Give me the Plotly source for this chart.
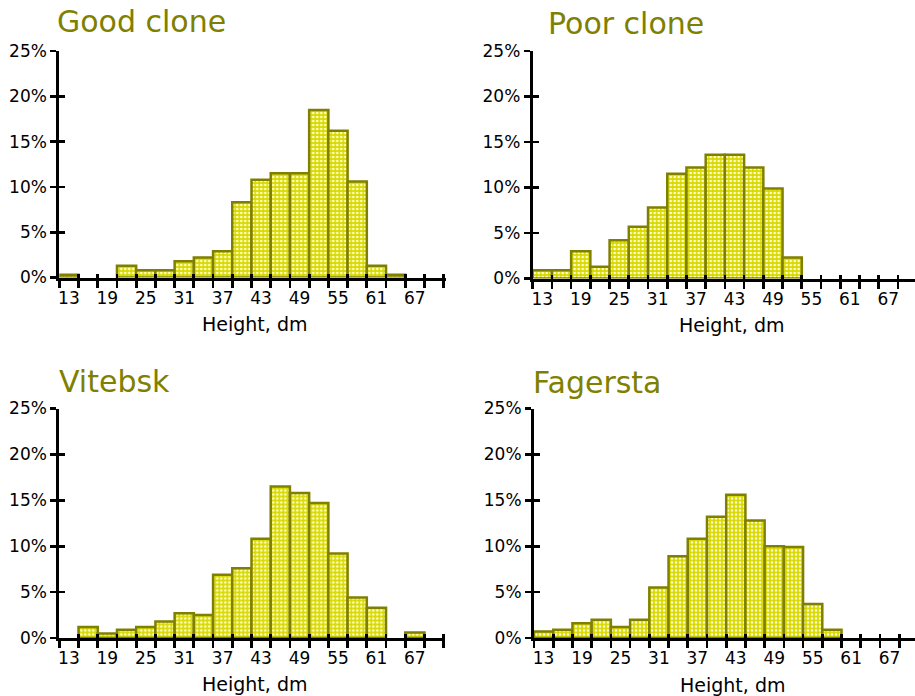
import plotly.graph_objects as go

# ---- data (percent of trees per 3-dm height class) ----
bin_centers = [13, 16, 19, 22, 25, 28, 31, 34, 37, 40, 43, 46, 49, 52, 55, 58, 61, 64, 67, 70]
tick_labels = [13, 19, 25, 31, 37, 43, 49, 55, 61, 67]
good_clone = [0.3, 0, 0, 1.3, 0.8, 0.8, 1.8, 2.2, 2.9, 8.3, 10.8, 11.5, 11.5, 18.5, 16.2, 10.6, 1.3, 0.3, 0, 0]
poor_clone = [0.9, 0.9, 3.0, 1.3, 4.2, 5.7, 7.8, 11.5, 12.2, 13.6, 13.6, 12.2, 9.9, 2.3, 0, 0, 0, 0, 0, 0]
vitebsk = [0, 1.2, 0.5, 0.9, 1.2, 1.8, 2.7, 2.5, 6.9, 7.6, 10.8, 16.5, 15.8, 14.7, 9.2, 4.4, 3.3, 0, 0.6, 0]
fagersta = [0.7, 0.9, 1.6, 2.0, 1.2, 2.0, 5.5, 8.9, 10.8, 13.2, 15.6, 12.8, 10.0, 9.9, 3.7, 0.9, 0, 0, 0, 0]
titles = ["Good clone", "Poor clone", "Vitebsk", "Fagersta"]
series = [good_clone, poor_clone, vitebsk, fagersta]
x_title = "Height, dm"
y_ticks = [0, 5, 10, 15, 20, 25]

W, H = 915, 696
FONT = "DejaVu Sans"
OLIVE = "#808000"

# panel geometry in pixels: (left, right, y of 0%, y of 25%)
panels = [
    (59.3, 446.0, 277.5, 51.0),
    (532.7, 915.0, 278.5, 51.0),
    (59.3, 445.0, 638.0, 408.5),
    (534.0, 915.0, 638.0, 408.5),
]
px_per_dm = 19.22 / 3.0
title_pos = [(55, 21.5), (546, 23.3), (57, 381.5), (531, 382)]
xtitle_pos = [(255, 324), (731, 325), (255, 684), (732, 685)]

fig = go.Figure()
layout = {}
annotations = []

for i in range(4):
    n = i + 1
    ov = i + 5
    left, right, y0, y25 = panels[i]
    xr = [11.5, 11.5 + (right - left) / px_per_dm]
    xdom = [left / W, min(right / W, 1.0)]
    ydom = [1 - y0 / H, 1 - y25 / H]
    vals = [v if v > 0 else None for v in series[i]]
    fig.add_trace(go.Bar(
        x=bin_centers, y=vals, width=3,
        xaxis=f"x{n}", yaxis=f"y{n}",
        marker=dict(color="#DADA00",
                    line=dict(color=OLIVE, width=2.5),
                    pattern=dict(shape=".", fgcolor="#FFFFD0", bgcolor="#D8D800",
                                 size=4, solidity=0.35, fillmode="replace")),
        showlegend=False, hoverinfo="skip",
    ))
    # dummy traces so overlay axes are rendered
    fig.add_trace(go.Scatter(x=[None], y=[None], xaxis=f"x{ov}", yaxis=f"y{n}",
                             showlegend=False, hoverinfo="skip"))
    fig.add_trace(go.Scatter(x=[None], y=[None], xaxis=f"x{n}", yaxis=f"y{ov}",
                             showlegend=False, hoverinfo="skip"))

    layout[f"xaxis{n}"] = dict(
        domain=xdom, range=xr, anchor=f"y{n}", automargin=False,
        showline=True, linecolor="black", linewidth=3,
        showgrid=False, zeroline=False,
        tickmode="array", tickvals=tick_labels, ticktext=[str(t) for t in tick_labels],
        ticks="", ticklen=0,
        minor=dict(tickmode="linear", tick0=11.5, dtick=3, ticks="outside",
                   ticklen=7, tickwidth=2.7, tickcolor="black", showgrid=False),
        tickfont=dict(family=FONT, size=17, color="black"),
        ticklabelstandoff=3,
        fixedrange=True,
    )
    layout[f"xaxis{ov}"] = dict(
        domain=xdom, range=xr, anchor=f"y{n}", overlaying=f"x{n}", automargin=False,
        showline=False, showgrid=False, zeroline=False, showticklabels=False,
        tickmode="linear", tick0=11.5, dtick=3, ticks="inside",
        ticklen=4, tickwidth=2.7, tickcolor="black", fixedrange=True,
    )
    layout[f"yaxis{n}"] = dict(
        domain=ydom, range=[0, 25], anchor=f"x{n}", automargin=False,
        showline=True, linecolor="black", linewidth=3,
        showgrid=False, zeroline=False,
        tickmode="array", tickvals=y_ticks, ticktext=[f"{t}%" for t in y_ticks],
        ticks="outside", ticklen=6, tickwidth=2.7, tickcolor="black",
        tickfont=dict(family=FONT, size=17, color="black"),
        fixedrange=True,
    )
    layout[f"yaxis{ov}"] = dict(
        domain=ydom, range=[0, 25], anchor=f"x{n}", overlaying=f"y{n}", automargin=False,
        showline=False, showgrid=False, zeroline=False, showticklabels=False,
        tickmode="array", tickvals=y_ticks, ticks="inside",
        ticklen=6, tickwidth=2.7, tickcolor="black", fixedrange=True,
    )

    tx, ty = title_pos[i]
    annotations.append(dict(
        text=titles[i], xref="paper", yref="paper", x=tx / W, y=1 - ty / H,
        xanchor="left", yanchor="middle", showarrow=False,
        font=dict(family=FONT, size=30, color=OLIVE),
    ))
    ax, ay = xtitle_pos[i]
    annotations.append(dict(
        text=x_title, xref="paper", yref="paper", x=ax / W, y=1 - ay / H,
        xanchor="center", yanchor="middle", showarrow=False,
        font=dict(family=FONT, size=19, color="black"),
    ))

fig.update_layout(
    width=W, height=H,
    margin=dict(l=0, r=0, t=0, b=0, autoexpand=False),
    paper_bgcolor="white", plot_bgcolor="white",
    bargap=0, showlegend=False,
    annotations=annotations,
    **layout,
)

fig.write_html(
    "out.html",
    config={"displayModeBar": False, "staticPlot": True},
    post_script="document.body.style.margin='0';document.body.style.padding='0';"
                "document.body.style.overflow='hidden';",
)
